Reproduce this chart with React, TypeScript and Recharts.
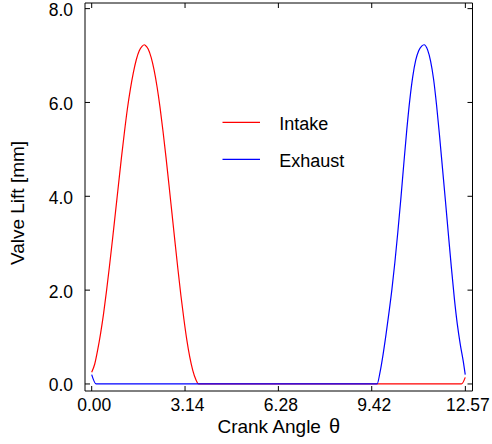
import React from 'react';
import { LineChart, Line, XAxis, YAxis, Legend } from 'recharts';

// Crank angle samples (rad) and valve lift (mm) for each valve
const intakeTheta = [
  0, 0.1, 0.2, 0.3, 0.4, 0.5, 0.6, 0.7, 0.8, 0.9, 1.0, 1.1, 1.2, 1.3, 1.4, 1.5, 1.6, 1.7, 1.77,
  1.8, 1.9, 2.0, 2.1, 2.2, 2.3, 2.4, 2.5, 2.6, 2.7, 2.8, 2.9, 3.0, 3.1, 3.2, 3.3, 3.4, 3.5, 3.6,
  12.44, 12.566,
];
const intakeLift = [
  0.25, 0.42, 0.72, 1.08, 1.5, 1.99, 2.52, 3.08, 3.66, 4.24, 4.82, 5.36, 5.86, 6.28, 6.63, 6.91, 7.1, 7.2, 7.23,
  7.22, 7.14, 6.96, 6.69, 6.33, 5.89, 5.38, 4.83, 4.24, 3.64, 3.04, 2.45, 1.89, 1.39, 0.94, 0.57, 0.29, 0.1, 0,
  0, 0.14,
];

const exhaustTheta = [
  0, 0.15, 9.6, 9.7, 9.8, 9.9, 10.0, 10.1, 10.2, 10.3, 10.4, 10.5, 10.6, 10.7, 10.8, 10.9, 11.0, 11.1, 11.18,
  11.3, 11.4, 11.5, 11.6, 11.7, 11.8, 11.9, 12.0, 12.1, 12.2, 12.3, 12.4, 12.5, 12.566,
];
const exhaustLift = [
  0.2, 0, 0, 0.25, 0.62, 1.05, 1.52, 2.02, 2.6, 3.25, 3.95, 4.7, 5.42, 6.05, 6.55, 6.9, 7.1, 7.2, 7.23,
  7.12, 6.88, 6.5, 5.95, 5.3, 4.6, 3.9, 3.18, 2.48, 1.82, 1.27, 0.84, 0.48, 0.2,
];

const seriesNames = ['Intake', 'Exhaust'];
const seriesColors = ['#ff0000', '#0000ff'];
const xTicks = [0, 3.14, 6.28, 9.42, 12.57];
const yTicks = [0, 2, 4, 6, 8];
const xDomain: [number, number] = [-0.225, 12.81];
const yDomain: [number, number] = [-0.15, 8.12];

const intakeData = intakeTheta.map((t, i) => ({ t, v: intakeLift[i] }));
const exhaustData = exhaustTheta.map((t, i) => ({ t, v: exhaustLift[i] }));

const FONT = '"Liberation Sans", Arial, Helvetica, sans-serif';
const TICK_LEN = 5;

const BottomTick = (p: any) => {
  const { x, y, payload } = p;
  return (
    <g>
      <line x1={x} x2={x} y1={y} y2={y - TICK_LEN} stroke="#000" />
      <text x={x + 2.5} y={y + 19.7} textAnchor="middle" fontSize={17.5} fontFamily={FONT} fill="#000">
        {Number(payload.value).toFixed(2)}
      </text>
    </g>
  );
};

const TopTick = (p: any) => {
  const { x, y } = p;
  return <line x1={x} x2={x} y1={y} y2={y + TICK_LEN} stroke="#000" />;
};

const LeftTick = (p: any) => {
  const { x, y, payload } = p;
  return (
    <g>
      <line x1={x} x2={x + TICK_LEN} y1={y} y2={y} stroke="#000" />
      <text x={x - 12} y={y + 7.5} textAnchor="end" fontSize={17.5} fontFamily={FONT} fill="#000">
        {Number(payload.value).toFixed(1)}
      </text>
    </g>
  );
};

const RightTick = (p: any) => {
  const { x, y } = p;
  return <line x1={x} x2={x - TICK_LEN} y1={y} y2={y} stroke="#000" />;
};

const XTitle = (p: any) => {
  const vb = p.viewBox;
  const cx = vb.x + vb.width / 2;
  return (
    <text x={cx} y={vb.y + 42.3} textAnchor="middle" fontSize={19} fontFamily={FONT} fill="#000">
      Crank Angle
      <tspan dx={8} fontSize={20}>θ</tspan>
    </text>
  );
};

const YTitle = (p: any) => {
  const vb = p.viewBox;
  const cx = 17;
  const cy = vb.y + vb.height / 2 + 6;
  return (
    <text
      x={cx}
      y={cy}
      transform={`rotate(-90 ${cx} ${cy})`}
      textAnchor="middle"
      dominantBaseline="central"
      fontSize={19}
      fontFamily={FONT}
      fill="#000"
    >
      Valve Lift [mm]
    </text>
  );
};

const LegendBox = () => (
  <svg width={170} height={72} style={{ display: 'block' }}>
    {seriesNames.map((name, i) => {
      const y = 17.3 + i * 37;
      return (
        <g key={name}>
          <line x1={7.5} x2={45} y1={y} y2={y} stroke={seriesColors[i]} strokeWidth={1.2} />
          <text x={64.3} y={y + 7.7} fontSize={18} fontFamily={FONT} fill="#000">
            {name}
          </text>
        </g>
      );
    })}
  </svg>
);

const axisLine = { stroke: '#000', strokeWidth: 1 };

export default function App() {
  return (
    <div style={{ position: 'absolute', left: 0, top: 0, width: 492, height: 444, background: '#fff' }}>
      <LineChart width={492} height={444} margin={{ top: 2, right: 18.5, bottom: 52, left: 0 }}>
        <XAxis
          xAxisId={0}
          type="number"
          dataKey="t"
          domain={xDomain}
          allowDataOverflow
          ticks={xTicks}
          interval={0}
          height={1}
          tickSize={0}
          tickMargin={0}
          tickLine={false}
          axisLine={axisLine}
          tick={BottomTick}
          label={XTitle}
        />
        <XAxis
          xAxisId="top"
          orientation="top"
          type="number"
          dataKey="t"
          domain={xDomain}
          allowDataOverflow
          ticks={xTicks}
          interval={0}
          height={1}
          tickSize={0}
          tickMargin={0}
          tickLine={false}
          axisLine={axisLine}
          tick={TopTick}
        />
        <YAxis
          yAxisId={0}
          type="number"
          domain={yDomain}
          allowDataOverflow
          ticks={yTicks}
          interval={0}
          width={85}
          tickSize={0}
          tickMargin={0}
          tickLine={false}
          axisLine={axisLine}
          tick={LeftTick}
          label={YTitle}
        />
        <YAxis
          yAxisId="right"
          orientation="right"
          type="number"
          domain={yDomain}
          allowDataOverflow
          ticks={yTicks}
          interval={0}
          width={1}
          tickSize={0}
          tickMargin={0}
          tickLine={false}
          axisLine={axisLine}
          tick={RightTick}
        />
        <Legend
          content={LegendBox}
          layout="horizontal"
          verticalAlign="middle"
          align="center"
          wrapperStyle={{ left: 215, top: 105, width: 170, height: 72 }}
        />
        <Line
          data={intakeData}
          dataKey="v"
          name={seriesNames[0]}
          type="monotone"
          stroke={seriesColors[0]}
          strokeWidth={1.2}
          dot={false}
          activeDot={false}
          isAnimationActive={false}
        />
        <Line
          data={exhaustData}
          dataKey="v"
          name={seriesNames[1]}
          type="monotone"
          stroke={seriesColors[1]}
          strokeWidth={1.2}
          dot={false}
          activeDot={false}
          isAnimationActive={false}
        />
      </LineChart>
    </div>
  );
}
